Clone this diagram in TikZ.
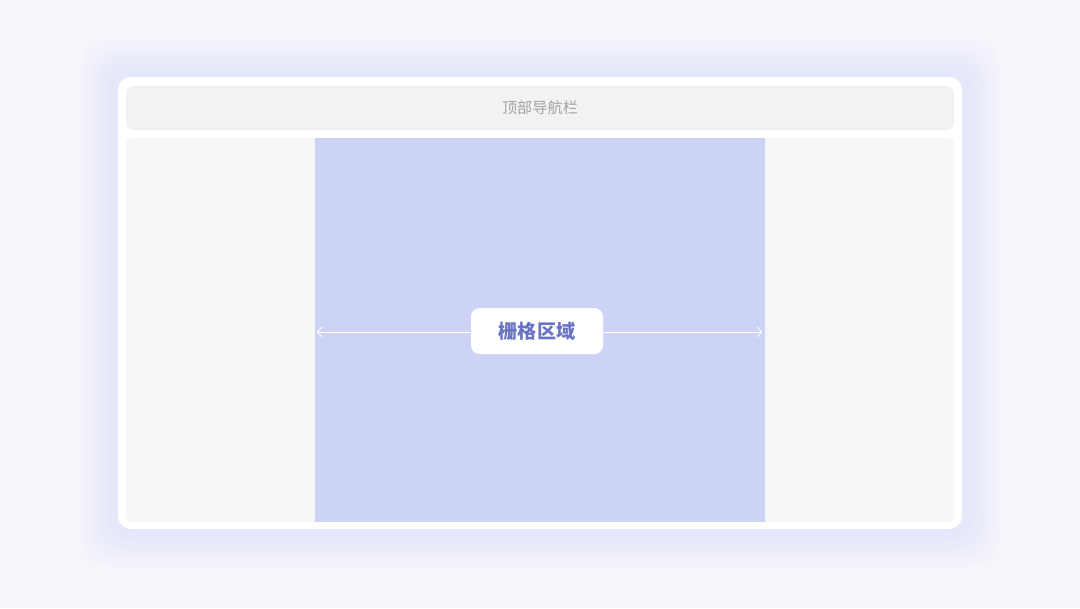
\documentclass[tikz,border=0pt]{standalone}
\usepackage{fontspec}
\newfontfamily\cjk{Noto Sans CJK SC}
\usepackage{tikz}
\usetikzlibrary{positioning, arrows.meta}
\definecolor{pagebg}{HTML}{F6F7FB}
\definecolor{glow}{HTML}{E4E8FA}
\definecolor{navbg}{HTML}{F1F2F4}
\definecolor{bodybg}{HTML}{F5F6F8}
\definecolor{gridbg}{HTML}{CCD3F7}
\definecolor{navtext}{HTML}{A3A3A6}
\definecolor{labeltext}{HTML}{6A74C4}
\tikzset{
  panel/.style={rounded corners=5pt, draw=none},
  tag/.style={fill=white, rounded corners=6pt, minimum width=132*0.025cm,
    minimum height=46*0.025cm, font=\cjk\bfseries\fontsize{13.6}{15}\selectfont,
    text=labeltext},
  span/.style={{Straight Barb[length=3pt,width=7pt]}-{Straight Barb[length=3pt,width=7pt]},
    draw=white, line width=0.6pt}
}

\begin{document}
\begin{tikzpicture}[x=0.025cm, y=-0.025cm]
  \def\Xl{126};
  \def\Xr{954};
  \def\Ga{315};
  \def\Gb{765};
  \def\Yarrow{332};
  % page
  \fill[pagebg] (0,0) rectangle (1080,608);
  \useasboundingbox (0,0) rectangle (1080,608);
  % soft glow round the frame
  \foreach \d in {40,38,...,2}
     \fill[glow, opacity=0.025, rounded corners=18pt] (118-\d,77-\d) rectangle (962+\d,529+\d);
  % frame
  \fill[white, rounded corners=9pt] (118,77) rectangle (962,529);
  % top bar
  \fill[navbg, panel] (\Xl,86) rectangle (\Xr,130);
  \node[font=\cjk\fontsize{10.8}{12}\selectfont, text=navtext] (nav) at (540,108) {顶部导航栏};
  % body
  \fill[bodybg, panel] (\Xl,138) rectangle (\Xr,522);
  \fill[gridbg] (\Ga,138) rectangle (\Gb,522);

  \coordinate (left) at (\Ga+2,\Yarrow);
  \coordinate (right) at (\Gb-3,\Yarrow);
  \draw[span] (left) -- (right);
  \node[tag] (grid) at (537,331) {栅格区域};
\end{tikzpicture}
\end{document}
